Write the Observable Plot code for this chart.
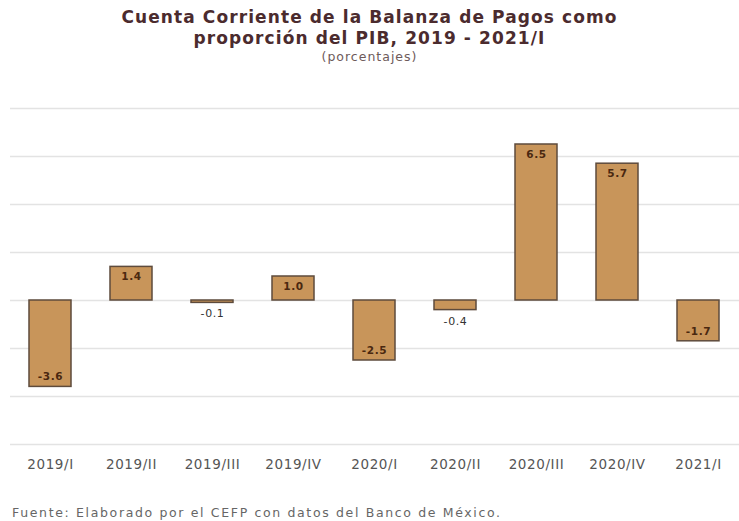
<!DOCTYPE html>
<html>
<head>
<meta charset="utf-8">
<script src="https://cdn.jsdelivr.net/npm/d3@7"></script>
<script src="https://cdn.jsdelivr.net/npm/@observablehq/plot@0.6"></script>
<style>
  body { margin: 0; background: #fff; width: 739px; height: 521px; overflow: hidden; font-family: "DejaVu Sans", sans-serif; }
  #t1 { position: absolute; top: 7px; left: 0; width: 739px; text-align: center; font-weight: bold; font-size: 17px; letter-spacing: 1.1px; color: #4b2b2e; line-height: 21px; }
  #t2 { position: absolute; top: 49px; left: 0; width: 739px; text-align: center; font-size: 12.5px; letter-spacing: 1px; color: #6e5a5a; }
  #chart { position: absolute; top: 80px; left: 0; }
  #foot { position: absolute; top: 505px; left: 12px; font-size: 12.5px; letter-spacing: 1.65px; color: #666; }
</style>
</head>
<body>
<div id="t1">Cuenta Corriente de la Balanza de Pagos como<br>proporción del PIB, 2019 - 2021/I</div>
<div id="t2">(porcentajes)</div>
<div id="chart"></div>
<div id="foot">Fuente: Elaborado por el CEFP con datos del Banco de México.</div>
<script>
const periods = ["2019/I","2019/II","2019/III","2019/IV","2020/I","2020/II","2020/III","2020/IV","2021/I"];
const values = [-3.6, 1.4, -0.1, 1.0, -2.5, -0.4, 6.5, 5.7, -1.7];
const gridTicks = [-6, -4, -2, 0, 2, 4, 6, 8];

const data = periods.map((p, i) => ({period: p, value: values[i]}));
const posIn = data.filter(d => d.value >= 1);
const negIn = data.filter(d => d.value <= -1);
const small = data.filter(d => Math.abs(d.value) < 1);
const fmt = d => d.value.toFixed(1);

const chart = Plot.plot({
  width: 739,
  height: 400,
  marginLeft: 10,
  marginRight: 0,
  marginTop: 28,
  marginBottom: 36,
  style: {fontFamily: "DejaVu Sans, sans-serif", fontSize: "13.5px", color: "#555", letterSpacing: "0.6px"},
  x: {domain: periods, paddingInner: 0.48, paddingOuter: 0.24, label: null, tickSize: 0, tickPadding: 15},
  y: {domain: [-6, 8], axis: null},
  marks: [
    Plot.ruleY(gridTicks, {stroke: "#e3e3e3", strokeWidth: 1.5}),
    Plot.barY(data, {x: "period", y: "value", fill: "#c8955a", stroke: "#5e4b3c", strokeWidth: 1.5}),
    Plot.text(posIn, {x: "period", y: "value", text: fmt, dy: 10, fill: "#4a2810", fontWeight: "bold", fontSize: 10.5}),
    Plot.text(negIn, {x: "period", y: "value", text: fmt, dy: -10, fill: "#4a2810", fontWeight: "bold", fontSize: 10.5}),
    Plot.text(small, {x: "period", y: "value", text: fmt, dy: 11, fill: "#333", fontSize: 11})
  ]
});
document.getElementById("chart").appendChild(chart);
</script>
</body>
</html>
